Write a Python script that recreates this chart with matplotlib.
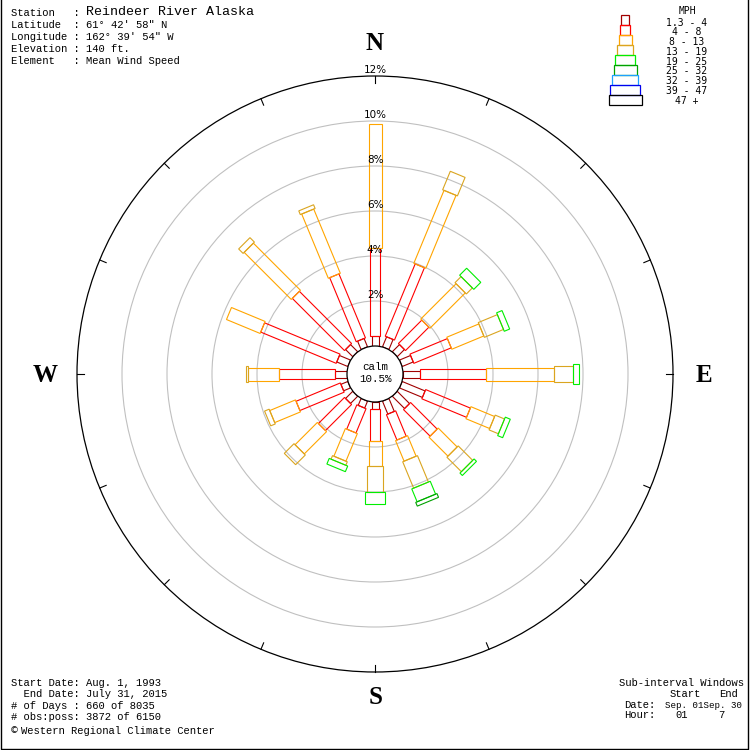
import numpy as np
import matplotlib
matplotlib.use("Agg")
import matplotlib.pyplot as plt
from matplotlib.patches import Polygon, Circle, Rectangle

# 风向与各风速段频率 (%)
directions = ['N', 'NNE', 'NE', 'ENE', 'E', 'ESE', 'SE', 'SSE',
              'S', 'SSW', 'SW', 'WSW', 'W', 'WNW', 'NW', 'NNW']
pct_1_4 = [0.44, 0.48, 0.45, 0.53, 0.76, 1.10, 0.77, 0.62,
           0.31, 0.33, 0.45, 0.33, 0.53, 0.53, 0.45, 0.40]
pct_4_8 = [3.92, 3.48, 1.47, 1.80, 2.93, 2.15, 1.67, 1.22,
           1.41, 1.17, 1.64, 2.13, 2.48, 3.63, 3.28, 3.08]
pct_8_13 = [5.51, 3.51, 2.22, 1.54, 3.03, 1.14, 1.19, 0.99,
            1.14, 1.33, 1.40, 1.24, 1.38, 1.62, 2.96, 3.09]
pct_13_19 = [0.00, 0.89, 0.38, 0.92, 0.85, 0.45, 0.91, 1.27,
             1.15, 0.17, 0.61, 0.22, 0.11, 0.00, 0.28, 0.18]
pct_19_25 = [0.00, 0.00, 0.44, 0.26, 0.24, 0.24, 0.15, 0.62,
             0.51, 0.27, 0.00, 0.00, 0.00, 0.00, 0.00, 0.00]
pct_25_32 = [0.00, 0.00, 0.00, 0.00, 0.00, 0.00, 0.00, 0.18,
             0.00, 0.00, 0.00, 0.00, 0.00, 0.00, 0.00, 0.00]
calm_pct = 10.5

speed_labels = ['1.3 - 4', '4 - 8', '8 - 13', '13 - 19', '19 - 25',
                '25 - 32', '32 - 39', '39 - 47', '47 +']
speed_colors = ['#a00000', '#ff0000', '#ffa500', '#daa520', '#00ee00',
                '#00a000', '#1ea0ff', '#0000ee', '#000000']
ring_pcts = [2, 4, 6, 8, 10, 12]

# 像素坐标换算
SCALE = 22.5          # 每 1% 的像素数
CX, CY = 375, 374     # 中心像素
R0 = 28 / SCALE       # 静风圈半径
widths_px = [7, 10, 13, 16, 20, 23, 26, 30, 33]


def px(x, y):
    return (x - CX) / SCALE, (CY - y) / SCALE


fig = plt.figure(figsize=(7.5, 7.5), dpi=100)
ax = fig.add_axes([0, 0, 1, 1])
ax.set_xlim(-CX / SCALE, (750 - CX) / SCALE)
ax.set_ylim(-(750 - CY) / SCALE, CY / SCALE)
ax.axis('off')

# 网格圆
for p in ring_pcts[:-1]:
    ax.add_patch(Circle((0, 0), R0 + p, fill=False, ec='#c0c0c0', lw=0.8, zorder=1))
ax.add_patch(Circle((0, 0), R0 + 12, fill=False, ec='black', lw=0.9, zorder=2))
for i in range(16):
    t = np.deg2rad(i * 22.5)
    r1, r2 = R0 + 12, R0 + 12 - 7 / SCALE
    ax.plot([r1 * np.sin(t), r2 * np.sin(t)], [r1 * np.cos(t), r2 * np.cos(t)],
            color='black', lw=0.8, zorder=2)

# 风玫瑰
classes = [pct_1_4, pct_4_8, pct_8_13, pct_13_19, pct_19_25, pct_25_32]
for i, d in enumerate(directions):
    t = np.deg2rad(i * 22.5)
    u = np.array([np.sin(t), np.cos(t)])
    v = np.array([np.cos(t), -np.sin(t)])
    cum = 0.0
    for k, vals in enumerate(classes):
        val = vals[i]
        if val <= 0:
            continue
        ra, rb = R0 + cum, R0 + cum + val
        hw = widths_px[k] / SCALE / 2
        pts = [u * ra + v * hw, u * rb + v * hw, u * rb - v * hw, u * ra - v * hw]
        ax.add_patch(Polygon(pts, closed=True, fill=False, ec=speed_colors[k],
                             lw=0.8, zorder=3 + k))
        cum += val

# 静风圈
ax.add_patch(Circle((0, 0), R0, fc='white', ec='black', lw=0.9, zorder=20))
ax.text(*px(375, 367), 'calm', ha='center', va='center', family='Liberation Mono',
        fontsize=7.8, zorder=21)
ax.text(*px(375, 379), f'{calm_pct}%', ha='center', va='center', family='Liberation Mono',
        fontsize=7.8, zorder=21)

# 百分比标注
for p in ring_pcts:
    ax.text(0, R0 + p + 6 / SCALE, f'{p}%', ha='center', va='center',
            family='DejaVu Sans', fontsize=7.5, zorder=25)

# 方位字母
for lab, (x, y) in zip(['N', 'E', 'S', 'W'],
                       [(375, 43), (704, 376), (376, 698), (45, 376)]):
    ax.text(*px(x, y), lab, ha='center', va='center', family='Liberation Serif',
            fontweight='bold', fontsize=18)

# 图例
ax.text(*px(687, 11), 'MPH', ha='center', va='center', family='DejaVu Sans Mono', fontsize=7)
for k, lab in enumerate(speed_labels):
    w = widths_px[k] + (1 if k == 0 else 0)
    x0, y0 = px(625 - w / 2, 25 + 10 * k)
    ax.add_patch(Rectangle((x0, y0), w / SCALE, 10 / SCALE, fill=False,
                           ec=speed_colors[k], lw=0.9))
    ax.text(*px(687, 22.7 + 9.75 * k), lab, ha='center', va='center',
            family='DejaVu Sans Mono', fontsize=7)

# 站点信息
mono = 'Liberation Mono'
ax.text(*px(11, 13), 'Station   : ', ha='left', va='center', family=mono, fontsize=7.6)
ax.text(*px(86, 12), 'Reindeer River Alaska', ha='left', va='center', family=mono, fontsize=9.6)
header = ['Latitude  : 61° 42\' 58" N',
          'Longitude : 162° 39\' 54" W',
          'Elevation : 140 ft.',
          'Element   : Mean Wind Speed']
for j, line in enumerate(header):
    ax.text(*px(11, 25 + 12 * j), line, ha='left', va='center', family=mono, fontsize=7.6)

footer = ['Start Date: Aug. 1, 1993',
          '  End Date: July 31, 2015',
          '# of Days : 660 of 8035',
          '# obs:poss: 3872 of 6150']
for j, line in enumerate(footer):
    ax.text(*px(11, 683 + 11.3 * j), line, ha='left', va='center', family=mono, fontsize=7.6)
ax.text(*px(10, 731), '©', ha='left', va='center', family='DejaVu Sans', fontsize=6.5)
ax.text(*px(21, 731), 'Western Regional Climate Center', ha='left', va='center',
        family=mono, fontsize=7.6)

ax.text(*px(619, 683), 'Sub-interval Windows', ha='left', va='center', family=mono, fontsize=7.6)
ax.text(*px(670, 694), 'Start', ha='left', va='center', family=mono, fontsize=7.6)
ax.text(*px(719, 694), 'End', ha='left', va='center', family=mono, fontsize=7.6)
ax.text(*px(624, 705), 'Date:', ha='left', va='center', family=mono, fontsize=7.6)
ax.text(*px(665, 705), 'Sep. 01Sep. 30', ha='left', va='center', family=mono, fontsize=6.6)
ax.text(*px(624, 715), 'Hour:', ha='left', va='center', family=mono, fontsize=7.6)
ax.text(*px(675, 715), '01', ha='left', va='center', family=mono, fontsize=7.6)
ax.text(*px(718, 715), '7', ha='left', va='center', family=mono, fontsize=7.6)

# 边框
bx = [px(0.5, 0), px(0.5, 748.5), px(747.5, 748.5), px(747.5, 0)]
ax.plot([p[0] for p in bx], [p[1] for p in bx], color='black', lw=1, zorder=30)

fig.savefig('out.png', dpi=100)
